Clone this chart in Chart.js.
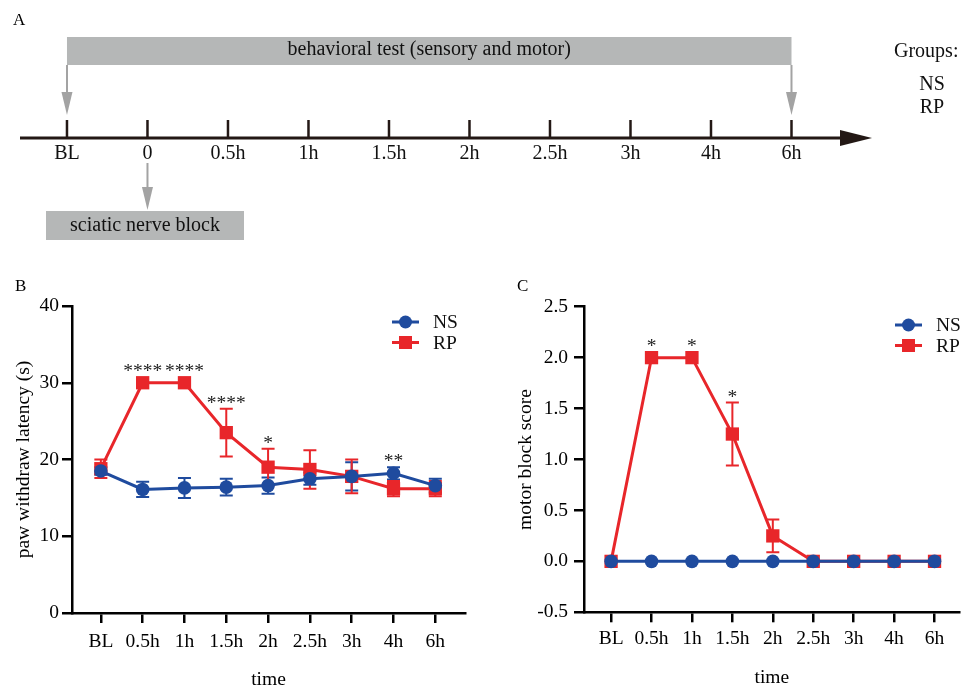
<!DOCTYPE html>
<html>
<head>
<meta charset="utf-8">
<script src="https://cdn.jsdelivr.net/npm/chart.js@4.4.0/dist/chart.umd.min.js"></script>
<style>
  html, body { margin: 0; padding: 0; background: #fff; overflow: hidden; }
  #fig { position: relative; width: 969px; height: 689px; overflow: hidden; background: #fff; }
  canvas { position: absolute; }
</style>
</head>
<body>
<div id="fig">
  <canvas id="panelA" width="969" height="260" style="left:0;top:0"></canvas>
  <canvas id="panelB" width="480" height="435" style="left:0;top:260px"></canvas>
  <canvas id="panelC" width="489" height="435" style="left:480px;top:260px"></canvas>
</div>
<script>
// 时间轴与分组
const timelineLabels = ['BL', '0', '0.5h', '1h', '1.5h', '2h', '2.5h', '3h', '4h', '6h']
const timeLabels = ['BL', '0.5h', '1h', '1.5h', '2h', '2.5h', '3h', '4h', '6h']
const groupNames = ['NS', 'RP']

// B: paw withdraw latency (s)
const nsLatency = [18.5, 16.1, 16.3, 16.4, 16.6, 17.5, 17.8, 18.2, 16.6]
const nsLatencyErr = [0.5, 1.0, 1.3, 1.1, 1.05, 0.8, 1.85, 0.8, 0.9]
const rpLatency = [18.8, 30.0, 30.0, 23.5, 19.0, 18.7, 17.8, 16.2, 16.2]
const rpLatencyErr = [1.2, 0, 0, 3.1, 2.4, 2.5, 2.2, 1.0, 1.0]
const latencyStars = ['', '****', '****', '****', '*', '', '', '**', '']

// C: motor block score
const nsScore = [0, 0, 0, 0, 0, 0, 0, 0, 0]
const nsScoreErr = [0, 0, 0, 0, 0, 0, 0, 0, 0]
const rpScore = [0, 2.0, 2.0, 1.25, 0.25, 0, 0, 0, 0]
const rpScoreErr = [0, 0, 0, 0.31, 0.16, 0, 0, 0, 0]
const scoreStars = ['', '*', '*', '*', '', '', '', '', '']

const SERIF = '"Liberation Serif", "Times New Roman", serif'
const BLUE = '#1f4b9e'
const RED = '#e8262a'
const GRAY_BOX = '#b5b7b7'
const GRAY_ARROW = '#a3a3a3'
const DARK = '#231815'

const toPoints = arr => arr.map((v, i) => ({ x: i, y: v }))

/**
 * 时间轴示意图 (A)
 */
const timelinePlugin = {
  id: 'timeline',
  afterDraw(chart) {
    const { ctx } = chart
    const x = chart.scales.x
    const px = i => x.getPixelForValue(i)
    const axisY = 138

    const arrowDown = (ax, y0, y1) => {
      ctx.strokeStyle = GRAY_ARROW
      ctx.fillStyle = GRAY_ARROW
      ctx.lineWidth = 2
      ctx.beginPath()
      ctx.moveTo(ax, y0)
      ctx.lineTo(ax, y1 - 20)
      ctx.stroke()
      ctx.beginPath()
      ctx.moveTo(ax - 5.5, y1 - 23)
      ctx.lineTo(ax + 5.5, y1 - 23)
      ctx.lineTo(ax, y1)
      ctx.closePath()
      ctx.fill()
    }

    ctx.save()
    ctx.textBaseline = 'middle'

    // 面板字母
    ctx.fillStyle = '#000'
    ctx.font = `17px ${SERIF}`
    ctx.textAlign = 'left'
    ctx.fillText('A', 13, 21)

    // 行为学测试条
    const x0 = px(0)
    const x9 = px(timelineLabels.length - 1)
    ctx.fillStyle = GRAY_BOX
    ctx.fillRect(x0, 37, x9 - x0, 28)
    ctx.fillStyle = '#111'
    ctx.font = `20px ${SERIF}`
    ctx.textAlign = 'center'
    ctx.fillText('behavioral test (sensory and motor)', (x0 + x9) / 2, 50)

    arrowDown(x0, 65, 115)
    arrowDown(x9, 65, 115)

    // 主轴
    ctx.strokeStyle = DARK
    ctx.fillStyle = DARK
    ctx.lineWidth = 3
    ctx.beginPath()
    ctx.moveTo(20, axisY)
    ctx.lineTo(845, axisY)
    ctx.stroke()
    ctx.beginPath()
    ctx.moveTo(840, axisY - 8)
    ctx.lineTo(872, axisY)
    ctx.lineTo(840, axisY + 8)
    ctx.closePath()
    ctx.fill()

    ctx.lineWidth = 2.5
    ctx.font = `20px ${SERIF}`
    timelineLabels.forEach((label, i) => {
      const tx = px(i)
      ctx.strokeStyle = DARK
      ctx.beginPath()
      ctx.moveTo(tx, 120)
      ctx.lineTo(tx, axisY)
      ctx.stroke()
      ctx.fillStyle = '#111'
      ctx.fillText(label, tx, 154)
    })

    // 坐骨神经阻滞
    arrowDown(px(1), 163, 210)
    ctx.fillStyle = GRAY_BOX
    ctx.fillRect(46, 211, 198, 29)
    ctx.fillStyle = '#111'
    ctx.fillText('sciatic nerve block', 145, 226)

    // 分组
    ctx.textAlign = 'left'
    ctx.fillText('Groups:', 894, 52)
    ctx.textAlign = 'center'
    groupNames.forEach((g, i) => ctx.fillText(g, 932, 85 + i * 23))
    ctx.restore()
  }
}

new Chart(document.getElementById('panelA'), {
  type: 'scatter',
  data: { datasets: [] },
  options: {
    responsive: false,
    animation: false,
    layout: { padding: 0 },
    plugins: { legend: { display: false }, tooltip: { enabled: false } },
    scales: {
      x: { type: 'linear', min: -0.832, max: 11.205, display: false },
      y: { min: 0, max: 1, display: false }
    }
  },
  plugins: [timelinePlugin]
})

/**
 * 误差线、显著性星号、图例
 */
const markPlugin = {
  id: 'marks',
  beforeDatasetsDraw(chart) {
    const { ctx } = chart
    const y = chart.scales.y
    ctx.save()
    chart.data.datasets.forEach((ds, di) => {
      const meta = chart.getDatasetMeta(di)
      ctx.strokeStyle = ds.borderColor
      ctx.lineWidth = 2
      meta.data.forEach((pt, i) => {
        const e = ds.errors[i]
        if (!e) return
        const v = ds.data[i].y
        const top = y.getPixelForValue(v + e)
        const bot = y.getPixelForValue(v - e)
        ctx.beginPath()
        ctx.moveTo(pt.x, top)
        ctx.lineTo(pt.x, bot)
        ctx.moveTo(pt.x - 6.5, top)
        ctx.lineTo(pt.x + 6.5, top)
        ctx.moveTo(pt.x - 6.5, bot)
        ctx.lineTo(pt.x + 6.5, bot)
        ctx.stroke()
      })
    })
    ctx.restore()
  },
  afterDraw(chart, args, opts) {
    const { ctx } = chart
    const y = chart.scales.y
    ctx.save()

    // 星号
    ctx.fillStyle = '#222'
    ctx.font = `19.5px ${SERIF}`
    ctx.textAlign = 'center'
    ctx.textBaseline = 'middle'
    opts.stars.forEach((s, i) => {
      if (!s) return
      let top = Infinity
      chart.data.datasets.forEach((ds, di) => {
        const pt = chart.getDatasetMeta(di).data[i]
        const v = ds.data[i].y
        top = Math.min(top, y.getPixelForValue(v + ds.errors[i]), pt.y - 6.5)
      })
      ctx.fillText(s, chart.getDatasetMeta(0).data[i].x, top - 9 + 4.5)
    })

    // 图例
    ctx.font = `19.5px ${SERIF}`
    ctx.textAlign = 'left'
    chart.data.datasets.forEach((ds, di) => {
      const ly = opts.legendY + di * 20.5
      const lx = opts.legendX
      ctx.strokeStyle = ds.borderColor
      ctx.fillStyle = ds.borderColor
      ctx.lineWidth = 3
      ctx.beginPath()
      ctx.moveTo(lx, ly)
      ctx.lineTo(lx + 27, ly)
      ctx.stroke()
      if (ds.pointStyle === 'rect') {
        ctx.fillRect(lx + 13.5 - 6.5, ly - 6.5, 13, 13)
      } else {
        ctx.beginPath()
        ctx.arc(lx + 13.5, ly, 6.5, 0, Math.PI * 2)
        ctx.fill()
      }
      ctx.fillStyle = '#111'
      ctx.fillText(ds.label, lx + 41, ly + 1)
    })

    // 面板字母
    ctx.font = `17px ${SERIF}`
    ctx.fillStyle = '#000'
    ctx.fillText(opts.panel, opts.panelX, 27)
    ctx.restore()
  }
}

function makeDatasets(ns, nsErr, rp, rpErr) {
  return [
    {
      label: groupNames[0],
      data: toPoints(ns),
      errors: nsErr,
      borderColor: BLUE,
      backgroundColor: BLUE,
      borderWidth: 3,
      pointStyle: 'circle',
      pointRadius: 6.8,
      pointBorderWidth: 0,
      tension: 0,
      clip: false
    },
    {
      label: groupNames[1],
      data: toPoints(rp),
      errors: rpErr,
      borderColor: RED,
      backgroundColor: RED,
      borderWidth: 3,
      pointStyle: 'rect',
      pointRadius: 9.4,
      pointBorderWidth: 0,
      tension: 0,
      clip: false
    }
  ]
}

function makeOptions(cfg) {
  const font = { family: SERIF, size: 19.5 }
  return {
    responsive: false,
    animation: false,
    layout: { padding: { top: cfg.top, right: cfg.right, left: 0, bottom: 0 } },
    plugins: {
      legend: { display: false },
      tooltip: { enabled: false },
      marks: { stars: cfg.stars, legendX: cfg.legendX, legendY: cfg.legendY, panel: cfg.panel, panelX: cfg.panelX }
    },
    scales: {
      x: {
        type: 'linear',
        min: cfg.xMin,
        max: cfg.xMax,
        afterBuildTicks: s => { s.ticks = timeLabels.map((_, i) => ({ value: i })) },
        afterFit: s => { s.height = cfg.xHeight },
        grid: { display: true, drawOnChartArea: false, drawTicks: true, tickLength: 10, color: '#000', lineWidth: 2.5 },
        border: { display: true, color: '#000', width: 2.5 },
        ticks: { callback: v => timeLabels[v], font, color: '#000', padding: cfg.xPad, maxRotation: 0, autoSkip: false },
        title: { display: true, text: 'time', font, color: '#000', padding: { top: 0, bottom: cfg.xTitlePad } }
      },
      y: {
        min: cfg.yMin,
        max: cfg.yMax,
        afterFit: s => { s.width = cfg.yWidth },
        grid: { display: true, drawOnChartArea: false, drawTicks: true, tickLength: 10, color: '#000', lineWidth: 2.5 },
        border: { display: true, color: '#000', width: 2.5 },
        ticks: { stepSize: cfg.yStep, callback: cfg.yFmt, font, color: '#000', padding: cfg.yPad },
        title: { display: true, text: cfg.yTitle, font, color: '#000', padding: { top: cfg.yTitlePad, bottom: 0 } }
      }
    }
  }
}

new Chart(document.getElementById('panelB'), {
  type: 'line',
  data: { datasets: makeDatasets(nsLatency, nsLatencyErr, rpLatency, rpLatencyErr) },
  options: makeOptions({
    top: 46, right: 15, xMin: -0.69, xMax: 8.71, xHeight: 82, xPad: 7, xTitlePad: 3.3,
    yMin: 0, yMax: 40, yStep: 10, yFmt: v => v, yWidth: 72, yPad: 3,
    yTitle: 'paw withdraw latency (s)', yTitlePad: 11.8,
    stars: latencyStars, legendX: 392, legendY: 62, panel: 'B', panelX: 15
  }),
  plugins: [markPlugin]
})

new Chart(document.getElementById('panelC'), {
  type: 'line',
  data: { datasets: makeDatasets(nsScore, nsScoreErr, rpScore, rpScoreErr) },
  options: makeOptions({
    top: 46.7, right: 0, xMin: -0.67, xMax: 8.62, xHeight: 82.7, xPad: 5.3, xTitlePad: 5.3,
    yMin: -0.5, yMax: 2.5, yStep: 0.5, yFmt: v => v.toFixed(1), yWidth: 104, yPad: 6,
    yTitle: 'motor block score', yTitlePad: 33.8,
    stars: scoreStars, legendX: 415, legendY: 65, panel: 'C', panelX: 37
  }),
  plugins: [markPlugin]
})
</script>
</body>
</html>
